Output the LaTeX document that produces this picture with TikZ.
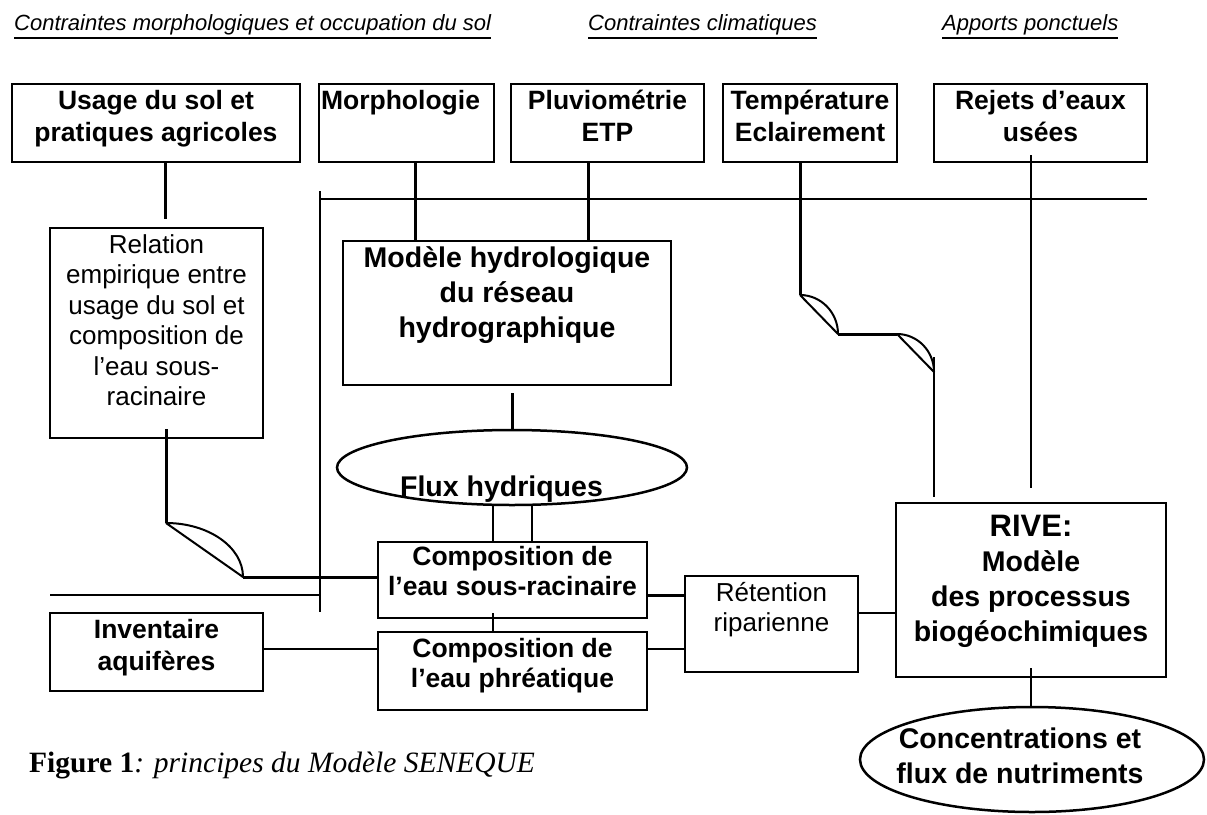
\documentclass[tikz,border=0pt]{standalone}
\usepackage{fontspec}
\setmainfont{Liberation Sans}
\newfontfamily\capfont{Liberation Serif}
\usetikzlibrary{shapes.geometric,calc}
\newsavebox\myulbox
\newcommand\myul[1]{\sbox\myulbox{#1}\rlap{\rule[-8.8pt]{\wd\myulbox}{1.8pt}}\usebox\myulbox}
\newcommand\pb[4]{\parbox[c][#2pt][t]{#1pt}{\centering\vspace*{#3pt}\strut#4\par}}
\tikzset{
  box/.style={draw, line width=2.5pt, inner sep=0pt, outer sep=0pt},
  ell/.style={draw, ellipse, line width=2.5pt, inner sep=0pt, outer sep=0pt},
  fA/.style={font=\fontsize{26.5}{32}\selectfont\bfseries},
  fC/.style={font=\fontsize{26.5}{30}\selectfont\bfseries},
  fM/.style={font=\fontsize{28.5}{35}\selectfont\bfseries},
  fR/.style={font=\fontsize{26}{30.4}\selectfont},
  fR2/.style={font=\fontsize{26}{30}\selectfont},
  hdr/.style={font=\fontsize{22}{26}\selectfont\itshape, inner sep=0pt},
  conn/.style={line width=3pt},
  connm/.style={line width=2.2pt},
  connt/.style={line width=1.7pt},
  frame/.style={line width=1.2pt},
  cross/.style={line width=2pt, line join=round},
}
\begin{document}
\begin{tikzpicture}[x=1pt,y=-1pt]
\useasboundingbox (0,0) rectangle (1207,814);

% headers
\node[hdr, anchor=base west] (h1) at (14,30) {\myul{Contraintes morphologiques et occupation du sol}};
\node[hdr, anchor=base west] (h2) at (588,30) {\myul{Contraintes climatiques}};
\node[hdr, anchor=base west] (h3) at (942,30) {\myul{Apports ponctuels}};

% frame lines
\draw[frame] (320,191) -- (320,612);
\draw[frame] (320,199) -- (1147,199);
\draw[frame] (50,595) -- (320,595);

% top boxes
\node[box, fA] (usage) at (156,123) {\pb{288}{78}{3.3}{Usage du sol et\\pratiques agricoles}};
\node[box, fA] (morph) at (406.5,123) {\pb{175}{78}{3.3}{\hspace*{-12pt}Morphologie}};
\node[box, fA] (pluvio) at (607.5,123) {\pb{193}{78}{3.3}{Pluviométrie\\ETP}};
\node[box, fA] (temp) at (810,123) {\pb{174}{78}{3.3}{Température\\Eclairement}};
\node[box, fA] (rejets) at (1040.5,123) {\pb{213}{78}{3.3}{Rejets d’eaux\\usées}};

% middle
\node[box, fR, line width=2pt] (relation) at (156.5,333) {\pb{213}{210}{4.3}{Relation\\empirique entre\\usage du sol et\\composition de\\l’eau sous-\\racinaire}};
\node[box, fM] (modele) at (507,313) {\pb{328}{144}{1.9}{Modèle hydrologique\\du réseau\\hydrographique}};
\node[ell, minimum width=350pt, minimum height=75pt] (flux) at (512,467.5) {};
\node[fM, anchor=base, inner sep=0pt] (tflux) at (501.5,496.4) {Flux hydriques};

\node[box, fC] (sousrac) at (512.5,580) {\pb{269}{76}{2.7}{Composition de\\l’eau sous-racinaire}};
\node[box, fC] (phreat) at (512.5,671) {\pb{269}{78}{4.7}{Composition de\\l’eau phréatique}};
\node[box, fA] (inv) at (156.5,652) {\pb{213}{78}{3.3}{Inventaire\\aquifères}};
\node[box, fR2, line width=1.7pt] (ret) at (771.5,624) {\pb{173}{96}{4.6}{Rétention\\riparienne}};
\node[box, fM] (rive) at (1031,590) {\pb{270}{174}{8.5}{{\fontsize{31}{35}\selectfont RIVE:}\\Modèle\\des processus\\biogéochimiques}};
\node[ell, minimum width=344pt, minimum height=105pt] (conc) at (1032,759.5) {};
\node[fM, inner sep=0pt] (tconc) at (1020,760.5) {\pb{300}{74}{0}{Concentrations et\\flux de nutriments}};

% caption
\node[anchor=base west, inner sep=0pt] (cap) at (29,772) {\capfont\fontsize{29.5}{34}\selectfont\textbf{Figure 1}\textit{: principes du Modèle SENEQUE}};

% connectors
\draw[conn] ($(usage.south)+(9,0)$) -- ($(relation.north)+(8.5,-9)$);
\coordinate (c1a) at (166,523);
\coordinate (c1b) at (243,577);
\draw[conn] ($(relation.south)+(9.5,-9)$) -- (c1a);
\draw[cross] (c1a) -- (c1b) .. controls (243,547) and (208.5,523) .. (c1a);
\draw[conn] (c1b) -- (c1b -| sousrac.west);

\draw[conn] ($(morph.south)+(8.5,0)$) -- ($(modele.north)+(-92,0)$);
\draw[conn] ($(pluvio.south)+(-19.5,0)$) -- ($(modele.north)+(81,0)$);
\draw[conn] ($(modele.south)+(5,8)$) -- (flux.north);
\draw[connm] ($(flux.south)+(-19,0)$) -- ($(sousrac.north)+(-19.5,0)$);
\draw[connm] ($(flux.south)+(20,0)$) -- ($(sousrac.north)+(19.5,0)$);
\draw[connt] ($(sousrac.south)+(-19.5,-5)$) -- ($(phreat.north)+(-19.5,0)$);
\draw[connm] ($(inv.east)+(0,-3)$) -- ($(phreat.west)+(0,-22)$);
\draw[conn] ($(sousrac.east)+(0,15)$) -- ($(ret.west)+(0,-29)$);
\draw[connt] ($(phreat.east)+(0,-22)$) -- ($(ret.west)+(0,25)$);
\draw[connt] ($(ret.east)+(0,-11)$) -- ($(rive.west)+(0,23)$);

% temperature path with crossings
\coordinate (t1) at (800,295);
\coordinate (t2) at (838,334);
\coordinate (t3) at (897,334);
\coordinate (t4) at (934,372);
\draw[conn] ($(temp.south)+(-10,0)$) -- (t1);
\draw[cross] (t1) -- (t2) .. controls (838,312.5) and (821,295) .. (t1);
\draw[conn] (t2) -- (t3);
\draw[cross] (t3) -- (t4) .. controls (934,351) and (917.4,334) .. (t3);
\draw[connm] (934,357) -- ($(rive.north west)+(38,-6)$);

\draw[connm] ($(rejets.south)+(-9.5,-7)$) -- ($(rive.north)+(0,-15)$);
\draw[connt] ($(rive.south)+(0,-9)$) -- (conc.north -| rive.south);
\end{tikzpicture}
\end{document}
